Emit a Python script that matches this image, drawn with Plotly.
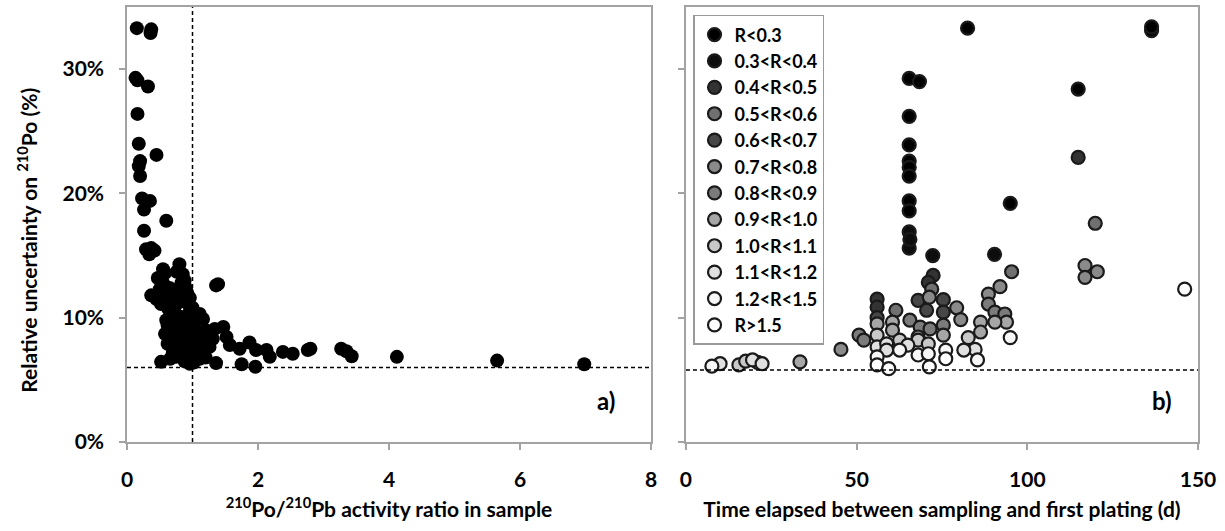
import plotly.graph_objects as go

# ---------------- Left panel data: 210Po/210Pb ratio vs relative uncertainty (%)
ratio = [0.15, 0.37, 0.36, 0.13, 0.16, 0.32, 0.16, 0.18, 0.45, 0.20, 0.18, 0.20,
         0.23, 0.35, 0.26, 0.60, 0.26, 0.29, 0.42, 0.34, 0.37,
         0.80, 0.55, 0.47, 0.85, 1.36, 1.39, 0.37, 0.90, 0.65, 0.52, 0.96, 0.67,
         1.00, 1.11, 0.60, 0.80, 1.16, 1.34, 1.47, 0.68, 0.88, 0.75, 1.06, 1.52,
         1.31, 1.57, 1.26, 1.87, 1.72, 1.97, 2.13, 2.18, 2.38, 2.53, 2.76, 2.80,
         3.27, 3.35, 3.43, 4.12, 5.65, 6.98, 0.62, 0.52, 0.75, 0.96, 0.90, 1.11,
         1.36, 1.75, 1.96, 0.80, 0.96, 0.87,
         0.55, 0.60, 0.70, 0.72, 0.78, 0.85, 0.62, 0.66, 0.74, 0.82, 0.92, 0.95,
         1.02, 0.70, 0.78, 0.85, 0.92, 1.00, 1.04, 1.10, 1.15, 1.20, 0.70, 0.66,
         0.88, 1.02, 1.08, 1.18, 1.25, 0.58, 0.62, 0.95, 1.02, 0.83, 0.88, 0.73,
         0.95, 1.05, 1.20, 1.22, 0.45, 0.50, 0.58, 0.76, 0.92]
unc_left = [33.3, 33.2, 32.9, 29.3, 29.1, 28.6, 26.4, 24.0, 23.1, 22.6, 22.2, 21.4,
            19.6, 19.4, 18.7, 17.8, 17.0, 15.5, 15.4, 15.1, 15.6,
            14.3, 13.9, 13.2, 13.5, 12.6, 12.7, 11.8, 12.4, 12.4, 11.1, 11.6, 11.6,
            10.8, 10.3, 9.8, 10.1, 9.9, 9.1, 9.25, 9.0, 9.0, 8.6, 8.6, 8.45,
            8.3, 7.8, 7.65, 8.0, 7.5, 7.4, 7.4, 6.85, 7.25, 7.1, 7.4, 7.5,
            7.5, 7.3, 6.9, 6.85, 6.55, 6.25, 7.9, 6.45, 6.85, 6.3, 6.85, 6.7,
            6.35, 6.25, 6.05, 7.6, 7.9, 8.6,
            12.8, 12.0, 11.0, 10.5, 11.2, 11.8, 10.8, 10.2, 9.6, 9.4, 9.8, 10.4,
            9.5, 8.4, 8.0, 7.6, 7.2, 7.0, 7.6, 8.0, 7.2, 6.8, 7.2, 6.7,
            6.5, 6.4, 6.9, 7.6, 8.6, 8.7, 9.4, 8.3, 8.9, 12.8, 13.0, 12.0,
            11.0, 10.0, 9.0, 8.2, 11.5, 12.3, 13.6, 13.7, 12.0]

# ---------------- Right panel data: time elapsed (d) vs relative uncertainty (%), by R class
r_classes = ["R<0.3", "0.3<R<0.4", "0.4<R<0.5", "0.5<R<0.6", "0.6<R<0.7", "0.7<R<0.8",
             "0.8<R<0.9", "0.9<R<1.0", "1.0<R<1.1", "1.1<R<1.2", "1.2<R<1.5", "R>1.5"]
class_colors = ["#000000", "#0d0d0d", "#333333", "#707070", "#474747", "#8a8a8a",
                "#7b7b7b", "#a6a6a6", "#c8c8c8", "#e0e0e0", "#f7f7f7", "#ffffff"]
days = [
    [82.5, 136.4, 136.4, 65.4, 68.4, 114.9, 65.4, 65.4, 65.4, 65.4, 65.4, 95.0, 65.4, 65.4],
    [65.4, 65.4, 72.3, 90.4, 65.6],
    [114.9, 56.0, 56.0, 72.4, 71.0],
    [119.9, 95.4, 61.5, 72.0],
    [68.0, 75.4, 70.5, 75.4, 56.0],
    [116.9, 120.5, 116.9, 71.3, 88.6, 92.0, 79.3, 80.5, 45.4],
    [50.7, 52.1, 65.6, 88.6, 90.5, 93.4, 68.6, 71.5, 75.4],
    [56.0, 60.5, 60.5, 86.3, 86.3, 93.9, 90.5, 75.4, 68.0, 33.4],
    [56.0, 62.6, 68.0, 71.0, 82.7, 15.5, 17.5, 21.0],
    [56.0, 58.8, 58.8, 65.0, 84.7, 81.4, 19.5, 22.3, 10.0],
    [56.0, 62.6, 68.0, 71.0, 76.1, 85.4, 7.6, 95.0],
    [56.0, 59.4, 71.3, 76.1, 146.1],
]
unc_right = [
    [33.3, 33.1, 33.4, 29.25, 29.0, 28.4, 26.2, 23.9, 22.6, 22.1, 21.4, 19.2, 19.4, 18.6],
    [16.9, 15.6, 15.0, 15.1, 16.3],
    [22.9, 11.5, 10.85, 13.4, 12.85],
    [17.6, 13.7, 10.6, 12.3],
    [11.4, 11.45, 10.6, 10.45, 10.0],
    [14.2, 13.7, 13.25, 11.65, 11.9, 12.5, 10.8, 9.85, 7.45],
    [8.6, 8.2, 9.8, 11.1, 10.45, 10.3, 9.25, 9.1, 9.4],
    [9.5, 9.65, 9.0, 9.65, 8.85, 9.65, 9.65, 8.6, 8.45, 6.45],
    [8.6, 8.2, 8.2, 7.9, 8.4, 6.2, 6.5, 6.4],
    [7.65, 7.9, 7.4, 7.8, 7.45, 7.4, 6.6, 6.3, 6.3],
    [6.85, 7.4, 7.0, 7.1, 7.4, 6.6, 6.1, 8.4],
    [6.2, 5.9, 6.05, 6.7, 12.3],
]

ratio_line = 1.0
unc_line_left = 6.0
unc_line_right = 5.8

FONT = "Lato"
AXC = "#a3a3a3"

fig = go.Figure()

fig.add_trace(go.Scatter(
    x=ratio, y=unc_left, mode="markers", showlegend=False,
    marker=dict(size=14, color="#000000", line=dict(width=0)),
    xaxis="x", yaxis="y"))

for name, col, dx, dy in zip(r_classes, class_colors, days, unc_right):
    fig.add_trace(go.Scatter(
        x=dx, y=dy, mode="markers", name=name, legendgroup=name,
        marker=dict(size=13, color=col, line=dict(width=2.2, color="#1a1a1a")),
        xaxis="x2", yaxis="y2"))

axis_common = dict(showline=True, linecolor=AXC, linewidth=1.5, mirror=True,
                   ticks="outside", ticklen=6, tickwidth=1.5, tickcolor=AXC,
                   showgrid=False, zeroline=False,
                   tickfont=dict(family=FONT, size=21, color="#000000", weight="bold"))

title_font = dict(family=FONT, size=21, color="#000000", weight="bold")

fig.update_layout(
    width=1225, height=531,
    margin=dict(l=127, r=27, t=5, b=89),
    paper_bgcolor="white", plot_bgcolor="white",
    font=dict(family=FONT, color="#000000", weight="bold"),
    xaxis=dict(domain=[0, 0.4893], range=[0, 8], dtick=2, tick0=0,
               ticklabelstandoff=12,
               title=dict(text="<sup>210</sup>Po/<sup>210</sup>Pb activity ratio in sample",
                          font=title_font, standoff=12),
               **axis_common),
    yaxis=dict(range=[0, 35], dtick=10, tick0=0, ticksuffix="%", ticklabelstandoff=11,
               **axis_common),
    xaxis2=dict(domain=[0.5219, 1], range=[0, 150], dtick=50, tick0=0, anchor="y2",
                ticklabelstandoff=12,
                title=dict(text="Time elapsed between sampling and first plating (d)",
                           font=title_font, standoff=12),
                **axis_common),
    yaxis2=dict(range=[0, 35], dtick=10, tick0=0, anchor="x2", showticklabels=False,
                **axis_common),
    legend=dict(x=0.5285, y=0.982, xanchor="left", yanchor="top",
                bgcolor="white", bordercolor="#999999", borderwidth=1.5,
                font=dict(family=FONT, size=18, color="#000000", weight="bold"),
                tracegroupgap=3, itemwidth=30, traceorder="normal"),
    shapes=[
        dict(type="line", xref="x", yref="y", x0=ratio_line, x1=ratio_line, y0=0, y1=35,
             line=dict(color="#000000", width=1.5, dash="4px,3px")),
        dict(type="line", xref="x", yref="y", x0=0, x1=8, y0=unc_line_left, y1=unc_line_left,
             line=dict(color="#000000", width=1.5, dash="4px,3px")),
        dict(type="line", xref="x2", yref="y2", x0=0, x1=150, y0=unc_line_right, y1=unc_line_right,
             line=dict(color="#000000", width=1.5, dash="4px,3px")),
    ],
    annotations=[
        dict(text="Relative uncertainty on <sup>210</sup>Po (%)", textangle=-90,
             xref="paper", yref="paper", x=-0.0934, y=0.465,
             xanchor="center", yanchor="middle", showarrow=False, font=title_font),
        dict(text="a)", xref="x domain", yref="y domain", x=0.935, y=0.0585,
             showarrow=False, font=dict(family=FONT, size=24, weight="bold")),
        dict(text="b)", xref="x2 domain", yref="y2 domain", x=0.953, y=0.0585,
             showarrow=False, font=dict(family=FONT, size=24, weight="bold")),
    ],
)

fig.write_html("out.html", config={"displayModeBar": False},
               post_script="document.body.style.margin='0px';")
